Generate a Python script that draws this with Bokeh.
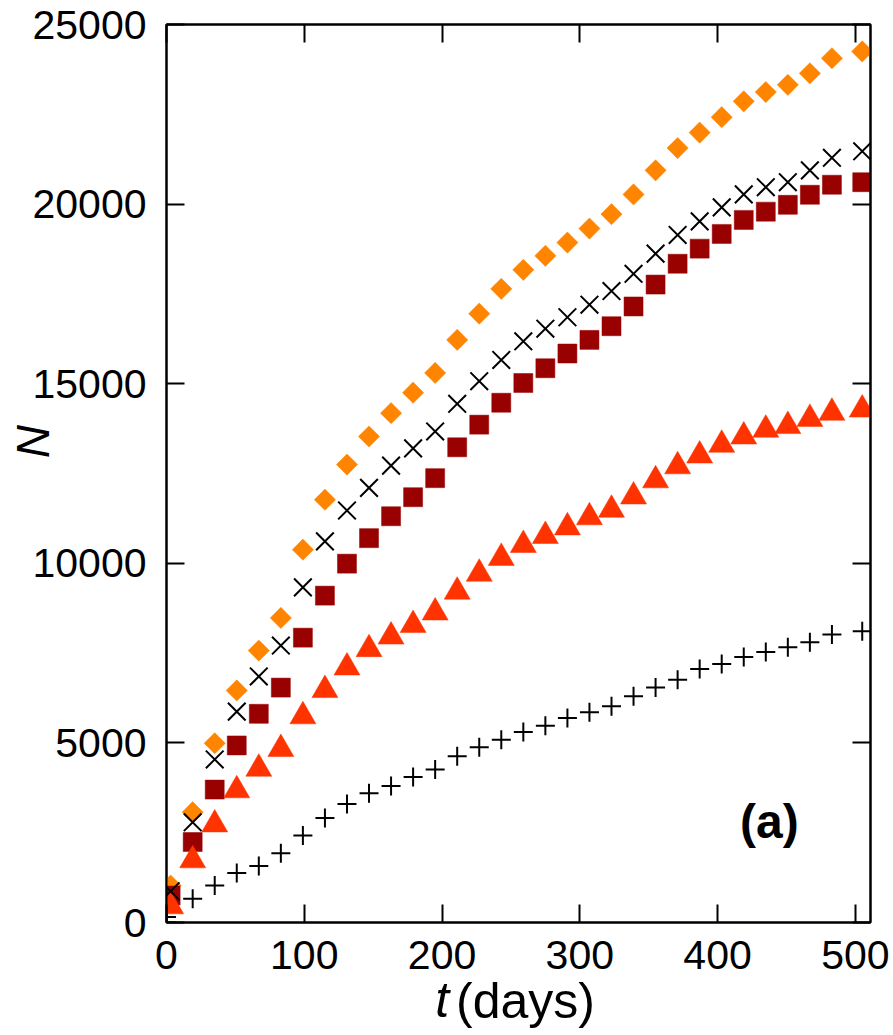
from bokeh.plotting import figure
from bokeh.models import Range1d, LinearAxis, FixedTicker, Label
from bokeh.embed import file_html
from bokeh.resources import INLINE

# ---- data ----
t_days = [3, 19, 35, 51, 67, 83, 99, 115, 131, 147, 163, 179, 195, 211, 227, 243,
          259, 275, 291, 307, 323, 339, 355, 371, 387, 403, 419, 435, 451, 467, 483, 505]

n_diamond = [1030, 3070, 4990, 6460, 7570, 8480, 10380, 11770, 12750, 13530, 14180,
             14750, 15300, 16220, 16950, 17640, 18170, 18560, 18930, 19320, 19720,
             20270, 20940, 21560, 21990, 22420, 22860, 23120, 23320, 23640, 24060, 24250]

n_cross = [870, 2790, 4540, 5870, 6850, 7710, 9330, 10610, 11470, 12100, 12720,
           13200, 13670, 14440, 15070, 15660, 16180, 16530, 16850, 17200, 17580,
           18060, 18620, 19140, 19520, 19910, 20270, 20470, 20610, 20940, 21290, 21470]

n_square = [750, 2240, 3700, 4930, 5810, 6540, 7930, 9100, 9990, 10700, 11310,
            11840, 12370, 13230, 13860, 14470, 15020, 15430, 15840, 16220, 16600,
            17150, 17760, 18340, 18760, 19170, 19560, 19790, 19980, 20260, 20540, 20610]

n_triangle = [450, 1730, 2730, 3680, 4280, 4830, 5740, 6470, 7100, 7610, 7960,
              8280, 8630, 9210, 9710, 10150, 10510, 10760, 11000, 11280, 11490,
              11860, 12310, 12700, 13000, 13300, 13530, 13720, 13820, 14020, 14190, 14280]

plus_days = [0, 0, 19, 35, 51, 67, 83, 99, 115, 131, 147, 163, 179, 195, 211, 227, 243,
             259, 275, 291, 307, 323, 339, 355, 371, 387, 403, 419, 435, 451, 467, 483, 505]
n_plus = [0, 150, 660, 1030, 1380, 1570, 1930, 2420, 2910, 3300, 3600, 3800, 4050,
          4260, 4630, 4880, 5090, 5300, 5480, 5690, 5850, 6020, 6300, 6540, 6760,
          7060, 7200, 7390, 7530, 7660, 7800, 8020, 8110]

x_ticks = [0, 100, 200, 300, 400, 500]
y_ticks = [0, 5000, 10000, 15000, 20000, 25000]

FONT = "Liberation Sans"
NB = "\u00a0"

p = figure(frame_width=704, frame_height=898,
           x_range=Range1d(0, 511), y_range=Range1d(0, 25000),
           output_backend="svg", toolbar_location=None,
           min_border_left=166, min_border_right=22, min_border_top=24, min_border_bottom=0)
p.background_fill_color = "white"
p.border_fill_color = "white"
p.grid.visible = False
p.outline_line_color = "black"
p.outline_line_width = 2

for ax in (p.xaxis[0], p.yaxis[0]):
    ax.axis_line_width = 2
    ax.axis_line_color = "black"
    ax.major_tick_line_width = 2
    ax.major_tick_in = 18
    ax.major_tick_out = 0
    ax.minor_tick_in = 0
    ax.minor_tick_out = 0
    ax.major_label_text_font = FONT
    ax.major_label_text_font_size = "41px"
    ax.major_label_text_color = "black"

p.xaxis[0].ticker = FixedTicker(ticks=x_ticks)
p.yaxis[0].ticker = FixedTicker(ticks=y_ticks)
p.xaxis[0].major_label_standoff = 18
p.yaxis[0].major_label_standoff = 20

# y title: italic N
yax = p.yaxis[0]
yax.axis_label = NB * 5 + "N"
yax.axis_label_text_font = FONT
yax.axis_label_text_font_style = "italic"
yax.axis_label_text_font_size = "46px"
yax.axis_label_text_color = "black"
yax.axis_label_standoff = -30

# x title: italic "t" on the main axis, upright "(days)" on a bare axis pulled up beside it
xax = p.xaxis[0]
xax.axis_label = "t" + NB * 11
xax.axis_label_text_font = FONT
xax.axis_label_text_font_style = "italic"
xax.axis_label_text_font_size = "50px"
xax.axis_label_text_color = "black"
xax.axis_label_standoff = 0

xax2 = LinearAxis(ticker=FixedTicker(ticks=[]))
xax2.axis_line_color = None
xax2.major_tick_in = 0
xax2.major_tick_out = 0
xax2.minor_tick_in = 0
xax2.minor_tick_out = 0
xax2.major_label_text_font_size = "0px"
xax2.major_label_standoff = 0
xax2.axis_label = NB + "(days)"
xax2.axis_label_text_font = FONT
xax2.axis_label_text_font_style = "normal"
xax2.axis_label_text_font_size = "50px"
xax2.axis_label_text_color = "black"
xax2.axis_label_standoff = -58
p.add_layout(xax2, "below")

# mirrored inward ticks on top and right
for loc, ticks in (("above", x_ticks), ("right", y_ticks)):
    ax = LinearAxis(ticker=FixedTicker(ticks=ticks))
    ax.axis_line_width = 2
    ax.major_tick_line_width = 2
    ax.major_tick_in = 18
    ax.major_tick_out = 0
    ax.minor_tick_in = 0
    ax.minor_tick_out = 0
    ax.major_label_text_font_size = "0px"
    ax.major_label_text_color = None
    p.add_layout(ax, loc)

# ---- series ----
p.scatter(t_days, n_diamond, marker="square", angle=0.785398, size=15,
          fill_color="#FF8400", line_color="#FF8400", line_width=0.5)
p.scatter(t_days, n_square, marker="square", size=19,
          fill_color="#990000", line_color="#990000", line_width=0.5)
p.scatter(t_days, n_triangle, marker="triangle", size=26,
          fill_color="#FF3300", line_color="#FF3300", line_width=0.5)
p.scatter(t_days, n_cross, marker="x", size=25, line_color="black", line_width=2)
p.scatter(plus_days, n_plus, marker="cross", size=19, line_color="black", line_width=2)

p.add_layout(Label(x=437.6, y=2800, text="(a)", text_font=FONT, text_font_style="bold",
                   text_font_size="48px", text_align="center", text_baseline="middle",
                   text_color="black"))

open("out.html", "w").write(file_html(p, INLINE))
